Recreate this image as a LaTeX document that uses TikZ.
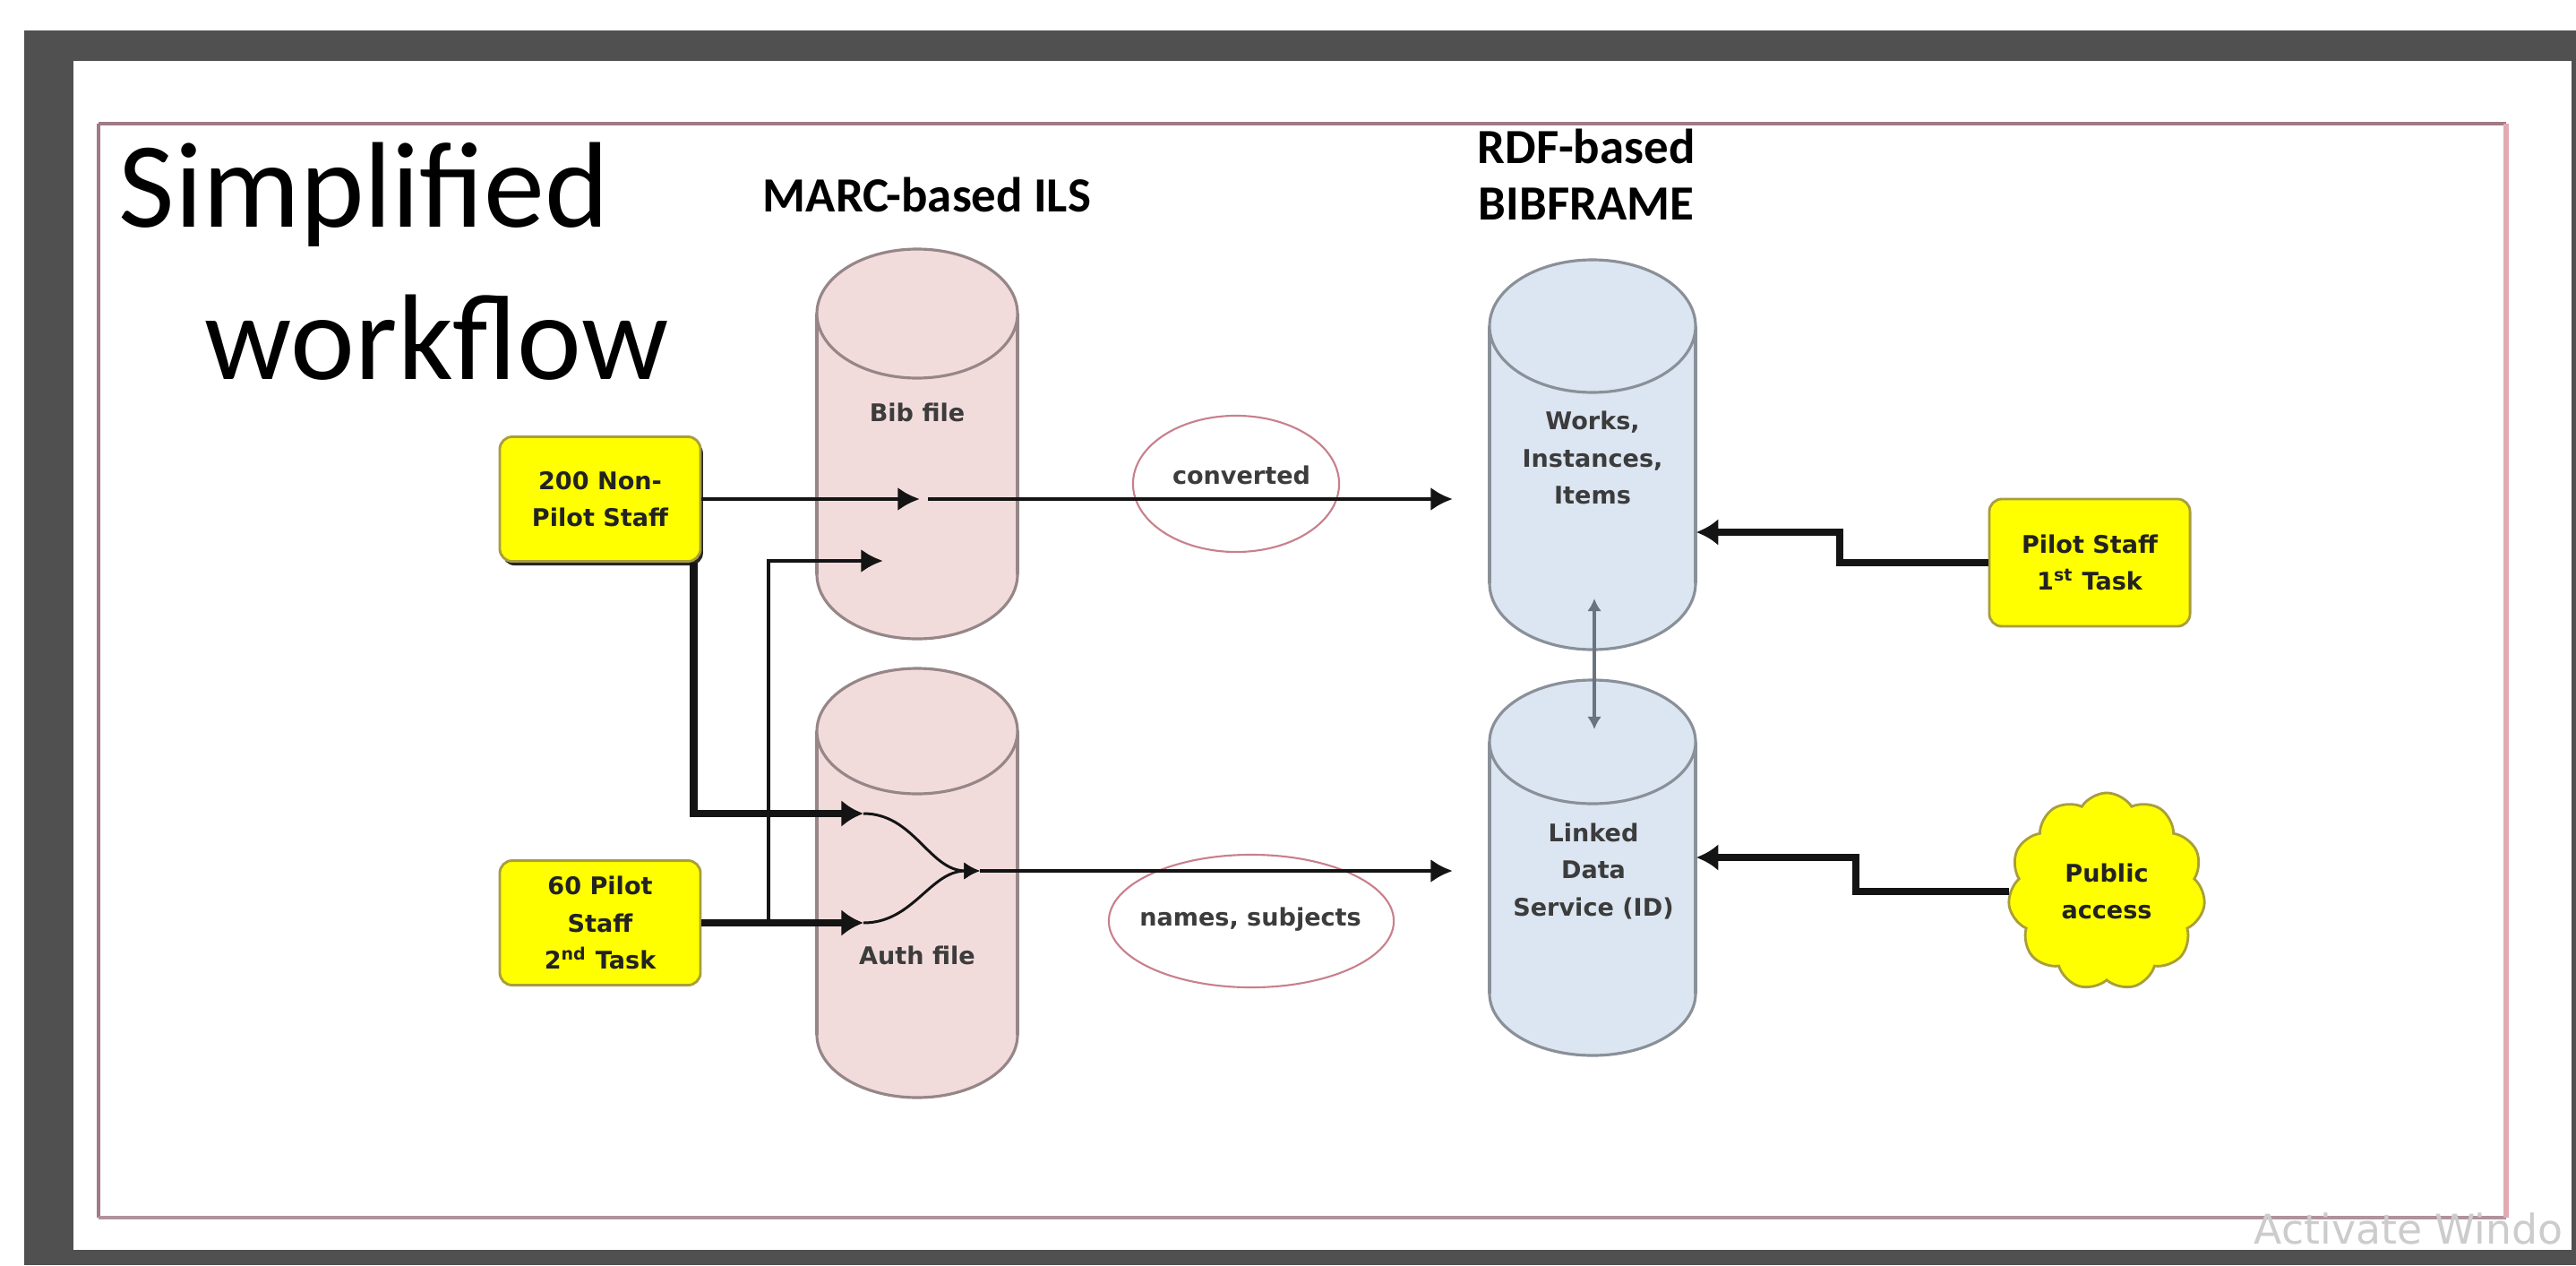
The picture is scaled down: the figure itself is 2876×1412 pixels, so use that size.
\documentclass[tikz,border=0pt]{standalone}
\usepackage{fontspec}
\setmainfont{DejaVu Sans}
\newfontfamily\carlito{Carlito}
\usetikzlibrary{arrows.meta,shapes.symbols,shapes.geometric,shadows}
\definecolor{frameDark}{HTML}{505050}
\definecolor{frameTop}{HTML}{A07A86}
\definecolor{frameRight}{HTML}{E2AAB4}
\definecolor{frameBot}{HTML}{B0929C}
\definecolor{boxYellow}{HTML}{FFFF00}
\definecolor{boxEdge}{HTML}{A89E3C}
\definecolor{pinkFill}{HTML}{F2DCDB}
\definecolor{pinkLine}{HTML}{968688}
\definecolor{blueFill}{HTML}{DCE6F2}
\definecolor{blueLine}{HTML}{8A9098}
\definecolor{ovalLine}{HTML}{C8808C}
\definecolor{arrowBlack}{HTML}{141414}
\definecolor{arrowGray}{HTML}{6A7480}
\definecolor{txtDark}{HTML}{222222}
\definecolor{txtCyl}{HTML}{3C3C3C}
\newcommand{\dbcyl}[7]{%
  \fill[#6] (#1-#4,#2) rectangle (#1+#4,#3);
  \fill[#6] (#1,#3) ellipse [x radius=#4, y radius=#5];
  \begin{scope}
    \clip (#1-#4-10,#3) rectangle (#1+#4+10,#3+#5+10);
    \draw[draw=#7, line width=0.9pt] (#1,#3) ellipse [x radius=#4, y radius=#5];
  \end{scope}
  \draw[draw=#7, line width=0.9pt] (#1-#4,#2) -- (#1-#4,#3) (#1+#4,#2) -- (#1+#4,#3);
  \filldraw[fill=#6, draw=#7, line width=0.9pt] (#1,#2) ellipse [x radius=#4, y radius=#5];
}
\begin{document}
\begin{tikzpicture}[x=0.01cm, y=-0.01cm,
  small/.style={font=\bfseries\fontsize{7.7}{11.8}\selectfont, align=center, inner sep=0pt},
  header/.style={font=\carlito\bfseries\fontsize{15.6}{18}\selectfont, text=black, inner sep=0pt},
  staffbox/.style={small, text=txtDark, rounded corners=4pt, fill=boxYellow, draw=boxEdge, line width=0.8pt, minimum width=2.24cm, minimum height=1.39cm},
  cloudbox/.style={small, text=txtDark, shape=cloud, cloud puffs=11, cloud puff arc=115, aspect=1, fill=boxYellow, draw=boxEdge, line width=0.8pt, minimum width=2.2cm, minimum height=2.2cm},
  oval/.style={small, text=txtCyl, draw=ovalLine, line width=0.6pt},
  cyltext/.style={small, text=txtCyl},
  cylbox/.style={inner sep=0pt, draw=none},
  thickarrow/.style={draw=arrowBlack, line width=2.3pt, -{Latex[length=7pt, width=8.5pt]}},
  medarrow/.style={draw=arrowBlack, line width=1.4pt, -{Latex[length=7pt, width=7.5pt]}},
  thinarrow/.style={draw=arrowBlack, line width=0.85pt, -{Latex[length=5pt, width=5.5pt]}},
  grayarrow/.style={draw=arrowGray, line width=1pt, {Latex[length=4pt, width=4.5pt]}-{Latex[length=4pt, width=4.5pt]}}
]
\useasboundingbox (0,0) rectangle (2876,1412);
\fill[white] (0,0) rectangle (2876,1412);
% screen frame
\fill[frameDark] (27,34) rectangle (2876,1412);
\fill[white] (82,68) rectangle (2871,1395);
% slide border
\draw[frameTop, line width=1.3pt] (110,138) -- (2798,138);
\draw[frameTop, line width=0.9pt] (110,138) -- (110,1359);
\draw[frameBot, line width=1.4pt] (110,1359) -- (2798,1359);
\draw[frameRight, line width=1.6pt] (2798,138) -- (2798,1359);

% title
\node[anchor=base west, inner sep=0pt, font=\carlito\fontsize{38.7}{42}\selectfont] (t1) at (132,253) {Simplified};
\node[anchor=base west, inner sep=0pt, font=\carlito\fontsize{38.7}{42}\selectfont] (t2) at (228,423) {workflow};

% headers
\node[header] (hmarc) at (1035,217) {MARC-based ILS};
\node[header, align=center] (hrdf) at (1771,195) {RDF-based\\BIBFRAME};

% cylinders
\dbcyl{1024}{350}{641}{112}{72}{pinkFill}{pinkLine}
\dbcyl{1024}{816}{1155}{112}{70}{pinkFill}{pinkLine}
\dbcyl{1778}{364}{651}{115}{74}{blueFill}{blueLine}
\dbcyl{1778}{828}{1109}{115}{69}{blueFill}{blueLine}
\node[cylbox, minimum width=2.24cm, minimum height=4.35cm] (bib) at (1024,495.5) {};
\node[cylbox, minimum width=2.24cm, minimum height=4.79cm] (auth) at (1024,985.5) {};
\node[cylbox, minimum width=2.30cm, minimum height=4.35cm] (works) at (1778,507.5) {};
\node[cylbox, minimum width=2.30cm, minimum height=4.19cm] (linked) at (1778,968.5) {};
\node[cyltext] (bibl) at (1024,460) {Bib file};
\node[cyltext] (authl) at (1024,1066) {Auth file};
\node[cyltext] (worksl) at (1778,511) {Works,\\Instances,\\Items};
\node[cyltext] (linkedl) at (1779,972) {Linked\\Data\\Service (ID)};

% ovals
\node[oval, ellipse, minimum width=2.30cm, minimum height=1.52cm] (conv) at (1380,540) {};
\node[small, text=txtCyl] (convl) at (1386,530) {converted};
\node[oval, ellipse, minimum width=3.18cm, minimum height=1.48cm] (names) at (1397,1028) {};
\node[small, text=txtCyl] (namesl) at (1396,1026) {names, subjects};

% staff boxes
\node[staffbox, drop shadow={shadow xshift=0.8pt, shadow yshift=-1.3pt, fill=black!85, opacity=1}] (np) at (670,557) {200 Non-\\Pilot Staff};
\node[staffbox] (p2) at (670,1030) {60 Pilot\\Staff\\2\textsuperscript{nd} Task};
\node[staffbox, minimum height=1.42cm] (p1) at (2333,628) {Pilot Staff\\1\textsuperscript{st} Task};
\node[cloudbox] (pub) at (2352,995) {Public\\access};

% coordinates
\coordinate (bibtipA) at (1027,557);
\coordinate (convstart) at (1036,557);
\coordinate (worksin) at (1622,557);
\coordinate (bibtipB) at (986,626);
\coordinate (branch) at (858,1030);
\coordinate (authA) at (964,908);
\coordinate (authB) at (964,1030);
\coordinate (merge) at (1094,972);
\coordinate (linkedin) at (1622,972);
\coordinate (dup) at (1780,668);
\coordinate (ddn) at (1780,814);

% connectors
\draw[medarrow] (np.east) -- (bibtipA);
\draw[medarrow] (convstart) -- (worksin);
\draw[thickarrow] ([xshift=-0.09cm]np.south east) |- (authA);
\draw[thickarrow] (p2.east) -- (authB);
\draw[medarrow] (branch) |- (bibtipB);
\draw[thinarrow] (authA) to[out=0, in=180] (merge);
\draw[thinarrow] (authB) to[out=0, in=180] (merge);
\draw[medarrow] (merge) -- (linkedin);
\draw[thickarrow] (p1.west) -- ++(-166,0) |- (works.east |- 0,594);
\draw[thickarrow] (pub.west) -- ++(-171,0) |- (linked.east |- 0,957);
\draw[grayarrow] (dup) -- (ddn);

% watermark
\node[anchor=base west, inner sep=0pt, text=black!20, font=\fontsize{13}{15}\selectfont] (wm) at (2516,1388) {Activate Windo};
\end{tikzpicture}
\end{document}
